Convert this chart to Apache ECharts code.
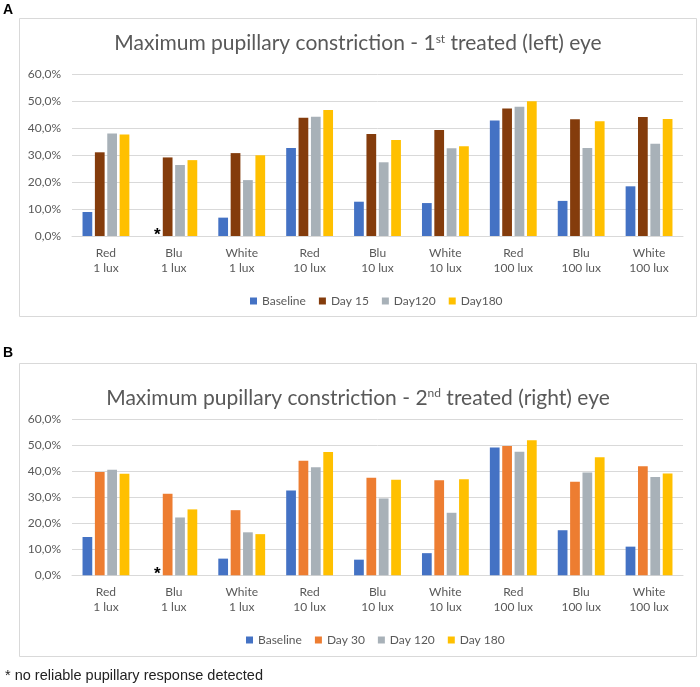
<!DOCTYPE html>
<html lang="en">
<head>
  <meta charset="UTF-8">
  <title>Maximum pupillary constriction</title>
  <script src="https://cdn.jsdelivr.net/npm/echarts/dist/echarts.min.js"></script>
  <style>
    body { margin: 0; background: #fff; }
    #chart { width: 700px; height: 687px; }
  </style>
</head>
<body>
<div id="chart"></div>

<script>
  // x categories (light colour + illuminance)
  var categories = ['Red\n1 lux', 'Blu\n1 lux', 'White\n1 lux', 'Red\n10 lux', 'Blu\n10 lux',
                    'White\n10 lux', 'Red\n100 lux', 'Blu\n100 lux', 'White\n100 lux'];

  // A: 1st treated (left) eye, % constriction
  var namesA = ['Baseline', 'Day 15', 'Day120', 'Day180'];
  var baselineA = [8.9, 0, 6.8, 32.6, 12.7, 12.2, 42.8, 13.0, 18.4];
  var day15A    = [31.0, 29.1, 30.7, 43.8, 37.8, 39.3, 47.2, 43.2, 44.1];
  var day120A   = [38.0, 26.3, 20.7, 44.2, 27.3, 32.5, 47.9, 32.6, 34.2];
  var day180A   = [37.6, 28.1, 29.9, 46.7, 35.6, 33.2, 49.9, 42.5, 43.3];

  // B: 2nd treated (right) eye
  var namesB = ['Baseline', 'Day 30', 'Day 120', 'Day 180'];
  var baselineB = [14.7, 0, 6.4, 32.6, 6.0, 8.5, 49.1, 17.3, 11.0];
  var day30B    = [39.7, 31.3, 25.0, 44.0, 37.4, 36.5, 49.6, 35.9, 41.9];
  var day120B   = [40.5, 22.2, 16.5, 41.5, 29.5, 24.0, 47.4, 39.5, 37.7];
  var day180B   = [39.0, 25.3, 15.8, 47.3, 36.7, 36.9, 51.8, 45.3, 39.1];

  // the blue bar with no reliable response gets an asterisk
  var missingIndex = 1;

  var colorsA = ['#4472c4', '#843c0c', '#a8b1b8', '#ffc000'];
  var colorsB = ['#4472c4', '#ed7d31', '#a8b1b8', '#ffc000'];

  var textColor = '#595959';
  var gridColor = '#d9d9d9';
  var font = 'Lato, "Open Sans", sans-serif';

  var chart = echarts.init(document.getElementById('chart'));

  function withAsterisk(values) {
    return values.map(function (v, i) {
      if (i !== missingIndex) return v;
      return {
        value: v,
        label: {
          show: true, formatter: '*', position: 'top', distance: 0, offset: [2, 8],
          fontSize: 17, fontWeight: 'bold', color: '#000', fontFamily: 'Liberation Sans, Arial'
        }
      };
    });
  }

  function makeSeries(names, lists, colors, axisIndex) {
    return names.map(function (name, k) {
      return {
        name: name,
        type: 'bar',
        xAxisIndex: axisIndex,
        yAxisIndex: axisIndex,
        data: k === 0 ? withAsterisk(lists[k]) : lists[k],
        itemStyle: { color: colors[k] },
        barCategoryGap: '31%',
        barGap: '27%',
        silent: true
      };
    });
  }

  function xAxis(gridIndex, margin) {
    return {
      type: 'category',
      gridIndex: gridIndex,
      data: categories,
      axisLine: { lineStyle: { color: gridColor } },
      axisTick: { show: false },
      axisLabel: { color: textColor, fontSize: 12, fontFamily: font, lineHeight: 15, margin: margin, interval: 0 }
    };
  }

  function yAxis(gridIndex) {
    return {
      type: 'value',
      gridIndex: gridIndex,
      min: 0,
      max: 60,
      interval: 10,
      axisLine: { show: false },
      axisTick: { show: false },
      splitLine: { lineStyle: { color: gridColor } },
      axisLabel: {
        color: textColor, fontSize: 12, fontFamily: font, margin: 11,
        formatter: function (v) { return v.toFixed(1).replace('.', ',') + '%'; }
      }
    };
  }

  function legend(names, left, top) {
    return {
      data: names,
      left: left,
      top: top,
      icon: 'rect',
      itemWidth: 7,
      itemHeight: 7,
      itemGap: 13,
      selectedMode: false,
      textStyle: { color: textColor, fontSize: 12, fontFamily: font }
    };
  }

  function titleText(text, y) {
    return {
      type: 'text',
      x: 358,
      y: y,
      style: {
        text: text,
        fill: textColor,
        fontSize: 21,
        fontFamily: font,
        align: 'center',
        verticalAlign: 'middle',
        rich: { sup: { fontSize: 12, fontFamily: font, fill: textColor, verticalAlign: 'top' } }
      }
    };
  }

  var option = {
    animation: false,
    grid: [
      { left: 72, right: 17, top: 74, height: 162 },
      { left: 72, right: 17, top: 419, height: 156.3 }
    ],
    xAxis: [xAxis(0, 9.5), xAxis(1, 9)],
    yAxis: [yAxis(0), yAxis(1)],
    legend: [legend(namesA, 245, 290), legend(namesB, 241, 629)],
    graphic: [
      { type: 'rect', z: -1, shape: { x: 19.5, y: 18.5, width: 677, height: 298 },
        style: { fill: '#fff', stroke: gridColor, lineWidth: 1 } },
      { type: 'rect', z: -1, shape: { x: 19.5, y: 363.5, width: 677, height: 293 },
        style: { fill: '#fff', stroke: gridColor, lineWidth: 1 } },
      { type: 'text', x: 3, y: 3, style: { text: 'A', fontSize: 14, fontWeight: 'bold', fontFamily: 'Liberation Sans, Arial', fill: '#000' } },
      { type: 'text', x: 3, y: 346, style: { text: 'B', fontSize: 14, fontWeight: 'bold', fontFamily: 'Liberation Sans, Arial', fill: '#000' } },
      titleText('Maximum pupillary constriction - 1{sup|st} treated (left) eye', 43.5),
      titleText('Maximum pupillary constriction - 2{sup|nd} treated (right) eye', 398),
      { type: 'text', x: 5, y: 676,
        style: { text: '* no reliable pupillary response detected', fontSize: 14.5, fontFamily: 'Liberation Sans, Arial',
                 fill: '#222', verticalAlign: 'middle' } }
    ],
    series: makeSeries(namesA, [baselineA, day15A, day120A, day180A], colorsA, 0)
      .concat(makeSeries(namesB, [baselineB, day30B, day120B, day180B], colorsB, 1))
  };

  chart.setOption(option);
</script>
</body>
</html>
